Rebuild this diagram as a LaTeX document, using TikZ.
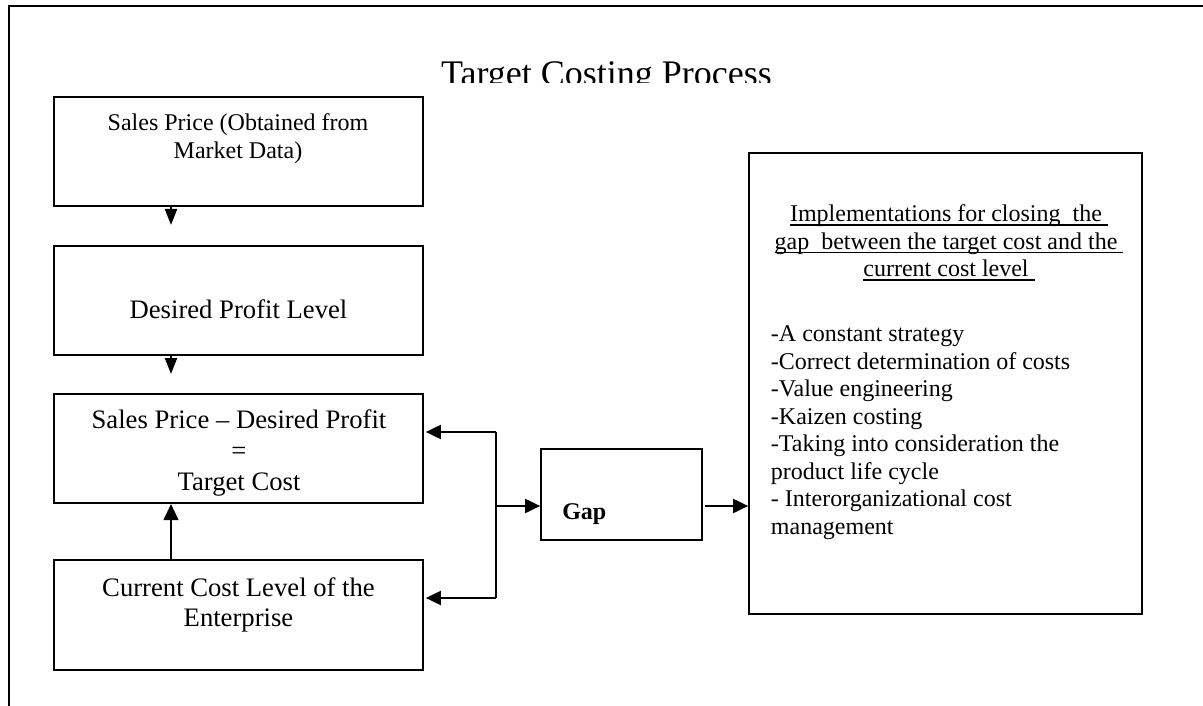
\documentclass[tikz,border=0pt]{standalone}
\usepackage{fontspec}
\setmainfont{Liberation Serif}
\usetikzlibrary{arrows.meta}
% underline at a fixed depth below the baseline (crosses descenders)
\newcommand\undr[1]{\setbox0\hbox{#1}\rlap{\rule[-3pt]{\wd0}{1.1pt}}\box0}
\tikzset{
  box/.style={draw, line width=1.3pt, inner sep=0pt},
  txt/.style={inner sep=0pt, align=center},
  big/.style={font={\fontsize{20pt}{23.25pt}\selectfont}},
  mid/.style={font={\fontsize{18pt}{20.6pt}\selectfont}},
  conn/.style={line width=1.5pt, -{Triangle[length=11.25pt,width=10.5pt]}},
  shortarr/.style={line width=1.5pt, -{Triangle[length=12pt,width=9pt]}},
}
\begin{document}
\begin{tikzpicture}[x=0.75pt,y=-0.75pt]
\useasboundingbox (0,0) rectangle (1203,706);

% page frame
\draw[line width=1.7pt] (9,706) -- (9,6) -- (1203,6);

% title, cut off at the bottom
\begin{scope}
  \clip (300,40) rectangle (1000,82.5);
  \node[inner sep=0pt, anchor=base, font={\fontsize{27pt}{30pt}\selectfont}] (title) at (606.5,85.5) {Target Costing Process};
\end{scope}

% left column (multi-line labels are placed by the baseline of their last line)
\node[box, minimum width=276.75pt, minimum height=81.75pt] (b1) at (238.5,151.5) {};
\node[txt, anchor=base, font={\fontsize{18pt}{21.2pt}\selectfont}] (t1) at (238,159) {Sales Price (Obtained from\\Market Data)};

\node[box, minimum width=276.75pt, minimum height=81.75pt] (b2) at (238.5,300.5) {};
\node[txt, big, anchor=base] (t2) at (238.5,318.3) {Desired Profit Level};

\node[box, minimum width=276.75pt, minimum height=81.75pt] (b3) at (238.5,448.5) {};
\node[txt, big, anchor=base] (t3) at (239,490) {Sales Price -- Desired Profit\\=\\Target Cost};

\node[box, minimum width=276.75pt, minimum height=82.5pt] (b4) at (238.5,615) {};
\node[txt, anchor=base, font={\fontsize{20pt}{22.5pt}\selectfont}] (t4) at (238.5,626) {Current Cost Level of the\\Enterprise};

% gap box
\node[box, minimum width=120.75pt, minimum height=68.25pt] (gap) at (621.5,494.5) {};
\node[inner sep=0pt, anchor=base west, font={\fontsize{18pt}{20pt}\selectfont\bfseries}] (tg) at (562,519) {Gap};

% implementations box
\node[box, minimum width=294.75pt, minimum height=345.75pt] (impl) at (945.5,383.5) {};
\node[txt, mid, anchor=base] (th) at (949,276.7) {\undr{Implementations for closing\ \ the\ }\\\undr{gap\ \ between the target cost and the\ }\\\undr{current cost level\ }};
\node[inner sep=0pt, align=left, mid, anchor=base west] (ti) at (770.7,534.2) {-A constant strategy\\-Correct determination of costs\\-Value engineering\\-Kaizen costing\\-Taking into consideration the\\product life cycle\\- Interorganizational cost\\management};

% connectors
\coordinate (d1) at (171,225);
\coordinate (d2) at (171,374);
\draw[shortarr] (b1.south -| d1) -- (d1);
\draw[shortarr] (b2.south -| d2) -- (d2);
\coordinate (u) at (171,504);
\draw[conn, -{Triangle[length=12pt,width=11pt]}] (b4.north -| u) -- (u);

\coordinate (brtop) at (496,432);
\coordinate (brbot) at (496,598);
\coordinate (brmid) at (496,506);
\draw[line width=1.5pt] (brtop) -- (brbot);
\draw[conn] (brtop) -- ([xshift=1.5pt]brtop -| b3.east);
\draw[conn] (brbot) -- ([xshift=1.5pt]brbot -| b4.east);
\draw[conn] (brmid) -- (brmid -| gap.west);
\draw[conn] ([xshift=1.5pt]brmid -| gap.east) -- (brmid -| impl.west);
\end{tikzpicture}
\end{document}
